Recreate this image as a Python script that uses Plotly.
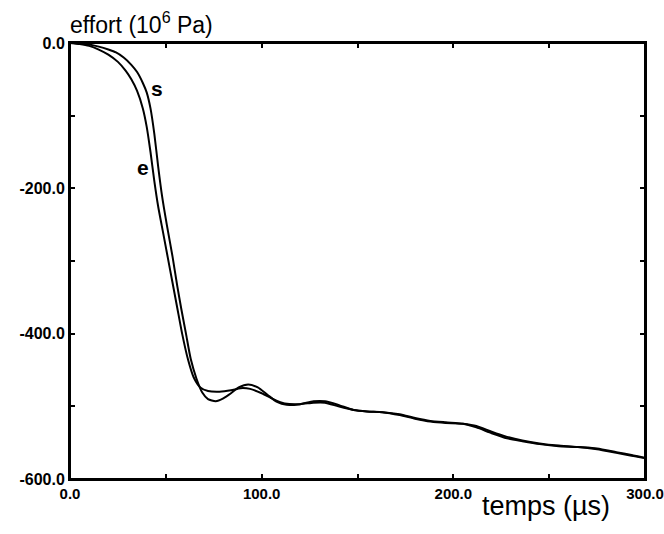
import plotly.graph_objects as go

# Curve "e"
t_e = [0, 5, 10, 15, 20, 25, 29, 32, 35, 38, 40, 42, 44, 46, 48.5, 51, 53.5, 56, 58.5, 61.5, 64.5, 68, 72, 78, 84, 89,
       94, 100, 106, 112, 120, 127, 133, 140, 148, 155, 163, 172, 180, 188, 196, 205, 212, 220, 228, 236, 245, 255,
       265, 275, 285, 293, 300]
y_e = [0, -1.5, -4, -9, -16, -26, -38, -50, -66, -90, -115, -150, -190, -225, -260, -295, -330, -365, -400, -435, -460,
       -474, -479, -480, -478, -475, -476, -482, -490, -496, -497, -495, -495, -500, -505, -507, -508, -512, -517, -521,
       -523, -524, -529, -537, -544, -548, -552, -555, -556, -559, -564, -568, -571]

# Curve "s"
t_s = [0, 5, 10, 15, 20, 24, 28, 32, 35, 38, 40, 42, 44, 46, 48, 50.5, 53.5, 56, 58, 60.5, 63, 66, 69, 72, 76, 80, 84,
       88, 93, 98, 103, 108, 113, 120, 127, 133, 140, 148, 155, 163, 172, 180, 188, 196, 205, 212, 220, 228, 236, 245,
       255, 265, 275, 285, 293, 300]
y_s = [0, -0.5, -2, -5, -9, -13, -20, -30, -40, -55, -68, -90, -125, -170, -210, -250, -294, -335, -365, -400, -435,
       -462, -481, -490, -493, -489, -482, -474, -470, -474, -484, -494, -498, -497, -493, -493, -498, -505, -507, -508,
       -511, -516, -520, -522, -524, -527, -535, -542, -547, -551, -554, -556, -558, -563, -567, -571]

x_tickvals = [0, 100, 200, 300]
x_ticktext = ["0.0", "100.0", "200.0", "300.0"]
y_tickvals = [0, -200, -400, -600]
y_ticktext = ["0.0", "-200.0", "-400.0", "-600.0"]

fig = go.Figure()
line = dict(color="black", width=2, shape="spline", smoothing=0.6)
fig.add_trace(go.Scatter(x=t_e, y=y_e, mode="lines", line=line, name="e", showlegend=False))
fig.add_trace(go.Scatter(x=t_s, y=y_s, mode="lines", line=line, name="s", showlegend=False))

FONT = "Liberation Sans, Arial, sans-serif"
axis_common = dict(showgrid=False, zeroline=False, showline=True, linecolor="black", linewidth=2,
                   mirror="ticks", ticks="inside", ticklen=5, tickwidth=1.5, tickcolor="black",
                   automargin=False, ticklabeloverflow="allow")

fig.update_xaxes(range=[0, 300], tickmode="array", tickvals=x_tickvals, ticktext=x_ticktext,
                 tickfont=dict(family=FONT, size=15, color="black", weight="bold"),
                 minor=dict(dtick=50, tick0=0, ticks="inside", ticklen=5, tickwidth=1.5, tickcolor="black",
                            showgrid=False),
                 **axis_common)
fig.update_yaxes(range=[-600, 0], tickmode="array", tickvals=y_tickvals, ticktext=y_ticktext,
                 tickfont=dict(family=FONT, size=16, color="black", weight="bold"),
                 minor=dict(dtick=100, tick0=0, ticks="inside", ticklen=5, tickwidth=1.5, tickcolor="black",
                            showgrid=False),
                 **axis_common)

# plot frame
fig.add_shape(type="rect", xref="paper", yref="paper", x0=0, y0=0, x1=1, y1=1,
              line=dict(color="black", width=2), layer="above")

fig.add_annotation(text="effort (10<sup>6</sup> Pa)", xref="paper", yref="paper", x=-0.004, y=1.047,
                   xanchor="left", yanchor="middle", showarrow=False,
                   font=dict(family=FONT, size=23, color="black"))
fig.add_annotation(text="temps (µs)", xref="paper", yref="paper", x=0.943, y=-0.062,
                   xanchor="right", yanchor="middle", showarrow=False,
                   font=dict(family=FONT, size=27, color="black"))
fig.add_annotation(text="s", x=45.5, y=-62, showarrow=False,
                   font=dict(family=FONT, size=21, color="black", weight="bold"))
fig.add_annotation(text="e", x=38.3, y=-172, showarrow=False,
                   font=dict(family=FONT, size=21, color="black", weight="bold"))

fig.update_layout(width=664, height=534, margin=dict(l=70, r=19, t=43, b=55),
                  plot_bgcolor="white", paper_bgcolor="white")

# remove the default page margin / scrollbars so the figure fills the window exactly
fig.write_html("out.html", config={"displayModeBar": False},
               post_script="document.body.style.margin='0';document.documentElement.style.overflow='hidden';")
